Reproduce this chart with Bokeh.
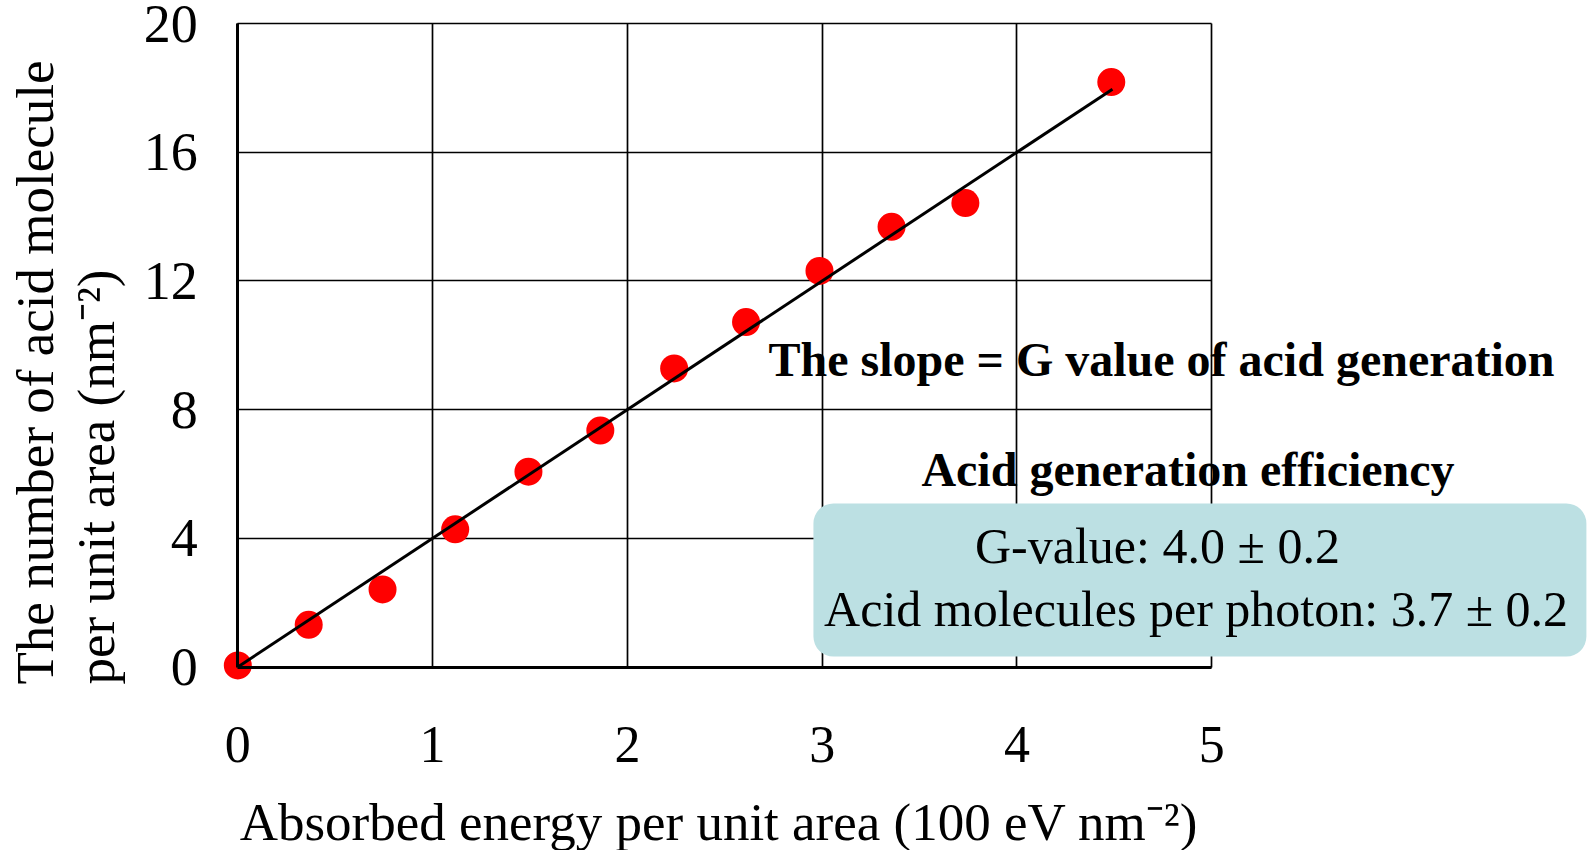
import math
from bokeh.plotting import figure
from bokeh.models import Label, BoxAnnotation, FixedTicker, Range1d, Grid
from bokeh.embed import file_html
from bokeh.resources import INLINE

# ---- data ----
energy = [0.0, 0.364, 0.743, 1.116, 1.492, 1.861, 2.240, 2.609, 2.986, 3.356, 3.735, 4.484]
acid = [0.05, 1.31, 2.41, 4.28, 6.07, 7.35, 9.28, 10.72, 12.31, 13.68, 14.42, 18.18]
fit_x = [0.0, 4.49]
fit_y = [0.0, 17.96]
x_ticks = [0, 1, 2, 3, 4, 5]
y_ticks = [0, 4, 8, 12, 16, 20]

x_title = "Absorbed energy per unit area (100 eV nm\u207b\u00b2)"
y_title_1 = "The number of acid molecule"
y_title_2 = "per unit area (nm\u207b\u00b2)"
note_slope = "The slope = G value of acid generation"
note_eff = "Acid generation efficiency"
box_line_1 = "G-value: 4.0 \u00b1 0.2"
box_line_2 = "Acid molecules per photon: 3.7 \u00b1 0.2"

SERIF = "Liberation Serif"

# the frame covers the whole canvas; the chart box (0..5, 0..20) sits inside it
p = figure(width=1588, height=850,
           x_range=Range1d(-1.2182, 6.9338), y_range=Range1d(-5.7032, 20.715),
           output_backend="svg", toolbar_location=None,
           min_border_left=0, min_border_right=0,
           min_border_top=0, min_border_bottom=0)

p.background_fill_color = "white"
p.border_fill_color = "white"
p.outline_line_color = None

p.xaxis.fixed_location = 0
p.yaxis.fixed_location = 0
p.xaxis.bounds = (0, 5)
p.yaxis.bounds = (0, 20)

for g, t in ((p.xgrid, x_ticks), (p.ygrid, y_ticks)):
    g.ticker = FixedTicker(ticks=t)
    g.grid_line_color = "black"
    g.grid_line_width = 1.7
    g.grid_line_alpha = 1

has_cross = "cross_bounds" in Grid.properties()
if has_cross:
    p.xgrid.cross_bounds = (0, 20)
    p.ygrid.cross_bounds = (0, 5)
else:
    p.xgrid.visible = False
    p.ygrid.visible = False
    p.segment(x0=x_ticks, y0=[0] * len(x_ticks), x1=x_ticks, y1=[20] * len(x_ticks),
              line_color="black", line_width=1.7, level="underlay")
    p.segment(x0=[0] * len(y_ticks), y0=y_ticks, x1=[5] * len(y_ticks), y1=y_ticks,
              line_color="black", line_width=1.7, level="underlay")

p.xaxis.ticker = FixedTicker(ticks=x_ticks)
p.yaxis.ticker = FixedTicker(ticks=y_ticks)
for ax in (p.xaxis, p.yaxis):
    ax.major_tick_line_color = None
    ax.minor_tick_line_color = None
    ax.axis_line_color = "black"
    ax.axis_line_width = 3
    ax.major_label_text_font = SERIF
    ax.major_label_text_color = "black"
p.xaxis.major_label_text_font_size = "52px"
p.yaxis.major_label_text_font_size = "54px"
p.xaxis.major_label_standoff = 54
p.yaxis.major_label_standoff = 34

p.scatter(energy, acid, size=28, color="#FF0000", line_color=None)
p.line(fit_x, fit_y, line_color="black", line_width=3)


def note(x, y, text, size, bold=False, angle=0.0, align="center"):
    p.add_layout(Label(x=x, y=y, text=text, angle=angle,
                       text_align=align, text_baseline="alphabetic",
                       text_font=SERIF, text_font_style="bold" if bold else "normal",
                       text_font_size=size, text_color="black"))


# axis titles
note(2.47, -4.802, x_title, "53px")
note(-1.041, -0.544, y_title_1, "53px", angle=math.pi / 2, align="left")
note(-0.730, -0.544, y_title_2, "53px", angle=math.pi / 2, align="left")

# notes
note(4.7418, 9.557, note_slope, "48px", bold=True)
note(4.8778, 6.132, note_eff, "48px", bold=True)

p.add_layout(BoxAnnotation(left=2.955, right=6.923, bottom=0.326, top=5.084,
                           fill_color="#BCE0E3", fill_alpha=1, line_color=None,
                           border_radius=20))
note(4.721, 3.776, box_line_1, "50px")
note(4.9194, 1.818, box_line_2, "50px")

open("out.html", "w").write(file_html(p, INLINE))
